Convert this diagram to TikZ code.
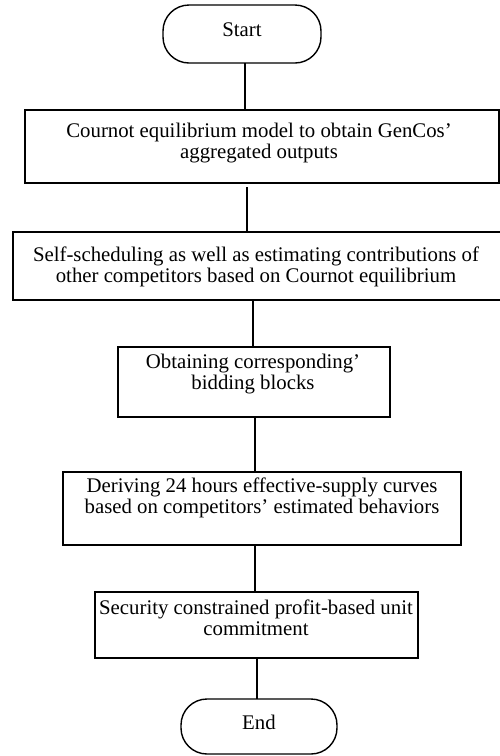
\documentclass[tikz,border=0pt]{standalone}
\usepackage{fontspec}
\setmainfont{Liberation Serif}
\begin{document}
\begin{tikzpicture}[x=1pt,y=-1pt,
  every node/.style={inner sep=0pt, outer sep=0pt},
  box/.style={draw, line width=1.4pt, rectangle},
  term/.style={draw, line width=1.4pt, rectangle, rounded corners=26pt},
  txt/.style={align=center, font=\fontsize{20.8}{21}\selectfont},
  conn/.style={line width=1.4pt}]
\useasboundingbox (0,0) rectangle (500,756);
% terminals
\node[term, minimum width=158pt, minimum height=58pt] (start) at (242,34) {};
\node[txt] (startT) at (242,30) {Start};
\node[term, minimum width=156pt, minimum height=55pt] (end) at (259,726.5) {};
\node[txt] (endT) at (259,722) {End};
% process boxes
\node[box, minimum width=474pt, minimum height=73pt] (b1) at (262,146.5) {};
\node[txt] (t1) at (259,143) {Cournot equilibrium model to obtain GenCos’\\aggregated outputs};
\node[box, minimum width=489pt, minimum height=68pt] (b2) at (257.5,266) {};
\node[txt] (t2) at (256,267) {Self-scheduling as well as estimating contributions of\\other competitors based on Cournot equilibrium};
\node[box, minimum width=272pt, minimum height=70pt] (b3) at (254,382) {};
\node[txt] (t3) at (253,374) {Obtaining corresponding’\\bidding blocks};
\node[box, minimum width=398pt, minimum height=73pt] (b4) at (262,508.5) {};
\node[txt] (t4) at (262,498) {Deriving 24 hours effective-supply curves\\based on competitors’ estimated behaviors};
\node[box, minimum width=323pt, minimum height=66pt] (b5) at (256.5,625) {};
\node[txt] (t5) at (256,618) {Security constrained profit-based unit\\commitment};
% connectors
\draw[conn] ([xshift=3pt]start.south) -- ([xshift=3pt]start.south |- b1.north);
\draw[conn, shorten <=4pt] ([xshift=-15pt]b1.south) -- ([xshift=-15pt]b1.south |- b2.north);
\draw[conn] ([xshift=-4.5pt]b2.south) -- ([xshift=-4.5pt]b2.south |- b3.north);
\draw[conn] ([xshift=1pt]b3.south) -- ([xshift=1pt]b3.south |- b4.north);
\draw[conn] ([xshift=-7pt]b4.south) -- ([xshift=-7pt]b4.south |- b5.north);
\draw[conn] ([xshift=0.5pt]b5.south) -- ([xshift=0.5pt]b5.south |- end.north);
\end{tikzpicture}
\end{document}
